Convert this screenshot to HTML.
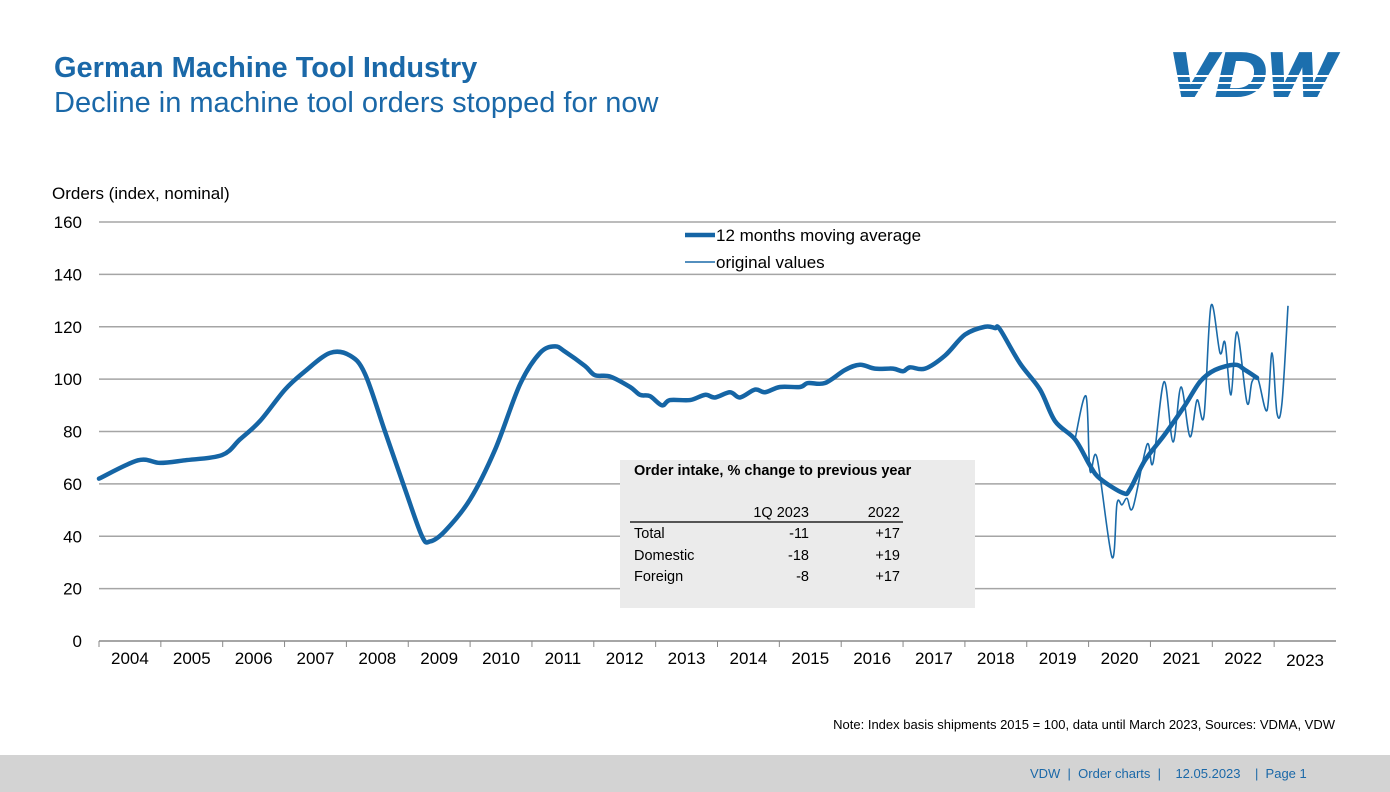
<!DOCTYPE html>
<html><head><meta charset="utf-8"><style>
body{margin:0;width:1390px;height:792px;background:#fff;font-family:"Liberation Sans",Arial,sans-serif;overflow:hidden;position:relative}
.abs{position:absolute;white-space:nowrap}
</style></head><body>
<div class="abs" style="left:54px;top:52px;font-size:29px;font-weight:bold;color:#1a68a8">German Machine Tool Industry</div>
<div class="abs" style="left:54px;top:87px;font-size:29px;color:#1a68a8">Decline in machine tool orders stopped for now</div>
<svg class="abs" style="left:1165px;top:48px" width="180" height="55">
<text x="86" y="48" text-anchor="middle" font-family="Liberation Sans" font-weight="bold" font-style="italic" font-size="62" fill="#1c6fae" stroke="#1c6fae" stroke-width="2" textLength="165" lengthAdjust="spacingAndGlyphs">VDW</text>
<rect x="0" y="27" width="180" height="2" fill="#fff"/><rect x="0" y="34" width="180" height="2" fill="#fff"/><rect x="0" y="41" width="180" height="2" fill="#fff"/>
</svg>
<svg id="chart" class="abs" style="left:0;top:0" width="1390" height="792"></svg>
<div class="abs" style="left:620px;top:460px;width:355px;height:148px;background:#ebebeb;font-size:14.5px;color:#000">
<div style="position:absolute;left:14px;top:3px;font-weight:bold">Order intake, % change to previous year</div>
<div style="position:absolute;left:10px;top:61px;width:273px;height:2px;background:#555"></div>
<div style="position:absolute;right:166px;top:45px">1Q 2023</div><div style="position:absolute;right:75px;top:45px">2022</div>
<div style="position:absolute;left:14px;top:66px">Total</div><div style="position:absolute;right:166px;top:66px">-11</div><div style="position:absolute;right:75px;top:66px">+17</div>
<div style="position:absolute;left:14px;top:88px">Domestic</div><div style="position:absolute;right:166px;top:88px">-18</div><div style="position:absolute;right:75px;top:88px">+19</div>
<div style="position:absolute;left:14px;top:109px">Foreign</div><div style="position:absolute;right:166px;top:109px">-8</div><div style="position:absolute;right:75px;top:109px">+17</div>
</div>
<div class="abs" style="right:55px;top:717px;font-size:13px;color:#000">Note: Index basis shipments 2015 = 100, data until March 2023, Sources: VDMA, VDW</div>
<div class="abs" style="left:0;top:755px;width:1390px;height:37px;background:#d3d3d3"></div>
<div class="abs" style="left:1030px;top:766px;font-size:13px;color:#1a68a8;white-space:pre">VDW  |  Order charts  |    12.05.2023    |  Page 1</div>
<script>
const yTicks=[0,20,40,60,80,100,120,140,160];
const years=[2004,2005,2006,2007,2008,2009,2010,2011,2012,2013,2014,2015,2016,2017,2018,2019,2020,2021,2022,2023];
const maX=[99,138,160,185,222,240,260,285,305,330,350,365,385,405,422,430,445,470,495,520,540,555,565,585,595,610,630,640,650,662,670,690,705,715,730,740,755,765,780,800,808,825,845,860,875,893,903,910,925,945,965,985,995,1000,1020,1040,1055,1075,1090,1100,1123,1130,1145,1165,1185,1200,1215,1235,1245,1257];
const maV=[62,69,68,69,71,77,84,96,103,110,109,102,80,58,40,38,42,54,73,98,110,112.5,110.5,105,101.5,101,97,94,93.5,90,92,92,94,93,95,93,96,95,97,97,98.5,98.5,103.5,105.5,104,104,103,104.5,104,109,117,120,119.5,119,106,96,84,77,67,62,56.5,58,69,79,90,99,103.5,105.5,103.5,100.5];
const origX=[1075,1086,1090,1097,1112,1117,1122,1127,1133,1147,1153,1164,1173,1181,1190,1197,1204,1211,1220,1225,1231,1237,1247,1252,1258,1267,1272,1277,1282,1288];
const origV=[77,93.5,65,70,32,52.5,52,54.5,51,75,68,99,76,97,78,92,86,128,110,114,94,118,91,99,100,88,110,87,91,128];
const toYear=px=>2004+(px-99)/61.85;
const maT=maX.map(toYear), origT=origX.map(toYear);
const X0=99,X1=1336,Y0=641,Y1=222;
const xs=t=>X0+(t-2004)*(X1-X0)/20;
const ys=v=>Y0-v*(Y0-Y1)/160;
const svg=document.getElementById('chart');const NS='http://www.w3.org/2000/svg';
function mk(tag,attrs){const e=document.createElementNS(NS,tag);for(const k in attrs)e.setAttribute(k,attrs[k]);svg.appendChild(e);return e;}
yTicks.forEach(v=>{
 const l=mk('line',{x1:X0,x2:X1,y1:ys(v),y2:ys(v),stroke:v===0?'#888':'#a5a5a5','stroke-width':1.5});
 
 
 const t=mk('text',{x:82,y:ys(v)+6,'text-anchor':'end','font-size':17,'font-family':'Liberation Sans'});t.textContent=v;
 
 
});
years.forEach((yr,i)=>{
 const x=xs(yr);
 const tk=mk('line',{x1:x,x2:x,y1:Y0,y2:Y0+6,stroke:'#888','stroke-width':1});
 
 
 const t=mk('text',{x:xs(yr+0.5),y:yr===2023?666:664,'text-anchor':'middle','font-size':17,'font-family':'Liberation Sans'});t.textContent=yr;
 
 
});
const yt=mk('text',{x:52,y:199,'font-size':17,'font-family':'Liberation Sans'});yt.textContent='Orders (index, nominal)';


function path(T,V){const p=T.map((t,i)=>[xs(t),ys(V[i])]);let d='M'+p[0][0]+','+p[0][1];
 for(let i=0;i<p.length-1;i++){const a=p[Math.max(0,i-1)],b=p[i],c=p[i+1],e=p[Math.min(p.length-1,i+2)];
 d+=` C${b[0]+(c[0]-a[0])/6},${b[1]+(c[1]-a[1])/6} ${c[0]-(e[0]-b[0])/6},${c[1]-(e[1]-b[1])/6} ${c[0]},${c[1]}`;}return d;}
const o=mk('path',{d:path(origT,origV),fill:'none',stroke:'#1a6aa8','stroke-width':1.6});


const m=mk('path',{d:path(maT,maV),fill:'none',stroke:'#1565a5','stroke-width':4.5,'stroke-linejoin':'round','stroke-linecap':'round'});


const l1=mk('line',{x1:685,x2:715,y1:235,y2:235,stroke:'#1565a5','stroke-width':4.5});


const t1=mk('text',{x:716,y:241,'font-size':17,'font-family':'Liberation Sans'});t1.textContent='12 months moving average';


const l2=mk('line',{x1:685,x2:715,y1:262,y2:262,stroke:'#1a6aa8','stroke-width':1.6});


const t2=mk('text',{x:716,y:268,'font-size':17,'font-family':'Liberation Sans'});t2.textContent='original values';


</script>
</body></html>
